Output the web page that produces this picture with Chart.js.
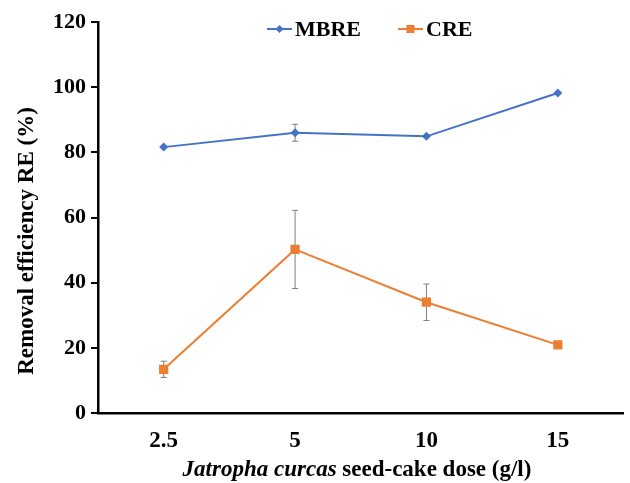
<!DOCTYPE html>
<html>
<head>
<meta charset="utf-8">
<script src="https://cdn.jsdelivr.net/npm/chart.js@4.4.1/dist/chart.umd.min.js"></script>
<style>
  body { margin: 0; background: #fff; }
  #wrap { width: 630px; height: 483px; }
</style>
</head>
<body>
<div id="wrap"><canvas id="grafico" width="630" height="483"></canvas></div>
<script>
const dosis = ['2.5', '5', '10', '15'];
const mbre = [81.6, 86.0, 84.9, 98.2];
const mbreErr = [0, 2.6, 0, 0];
const cre = [13.4, 50.2, 34.0, 20.9];
const creErr = [2.5, 12.0, 5.6, 0];
const yTicks = [0, 20, 40, 60, 80, 100, 120];

const fuente = 'Liberation Serif, Times New Roman, serif';
const azul = '#4472C4';
const naranja = '#ED7D31';

// barras de error, dibujadas detras de los marcadores
const barrasError = {
    id: 'barrasError',
    beforeDatasetsDraw(chart) {
        const ctx = chart.ctx;
        const xs = chart.scales.x;
        const ys = chart.scales.y;
        ctx.save();
        ctx.strokeStyle = '#7f7f7f';
        ctx.lineWidth = 1;
        chart.data.datasets.forEach((ds) => {
            ds.errores.forEach((e, i) => {
                if (!e) return;
                const x = xs.getPixelForValue(i);
                const y1 = ys.getPixelForValue(ds.data[i] + e);
                const y2 = ys.getPixelForValue(ds.data[i] - e);
                ctx.beginPath();
                ctx.moveTo(x, y1); ctx.lineTo(x, y2);
                ctx.moveTo(x - 3, y1); ctx.lineTo(x + 3, y1);
                ctx.moveTo(x - 3, y2); ctx.lineTo(x + 3, y2);
                ctx.stroke();
            });
        });
        ctx.restore();
    }
};

// leyenda con linea y marcador, titulos de ejes
const extras = {
    id: 'extras',
    afterDraw(chart) {
        const ctx = chart.ctx;
        ctx.save();
        ctx.font = 'bold 22px ' + fuente;
        ctx.textBaseline = 'middle';
        ctx.fillStyle = '#000';
        const items = [
            { x: 267, ds: chart.data.datasets[0] },
            { x: 398, ds: chart.data.datasets[1] }
        ];
        const yl = 29;
        items.forEach(({x, ds}) => {
            ctx.strokeStyle = ds.borderColor;
            ctx.lineWidth = 2;
            ctx.beginPath();
            ctx.moveTo(x, yl); ctx.lineTo(x + 25, yl);
            ctx.stroke();
            ctx.fillStyle = ds.borderColor;
            ctx.beginPath();
            if (ds.pointStyle === 'rectRot') {
                ctx.moveTo(x + 12.5, yl - 4); ctx.lineTo(x + 16.5, yl);
                ctx.lineTo(x + 12.5, yl + 4); ctx.lineTo(x + 8.5, yl);
            } else {
                ctx.rect(x + 8.5, yl - 4, 8, 8);
            }
            ctx.fill();
            ctx.fillStyle = '#000';
            ctx.textAlign = 'left';
            ctx.fillText(ds.label, x + 28, yl + 1);
        });

        // titulo eje y
        ctx.save();
        ctx.translate(27, 241);
        ctx.rotate(-Math.PI / 2);
        ctx.font = 'bold 23px ' + fuente;
        ctx.textAlign = 'center';
        ctx.textBaseline = 'middle';
        ctx.fillText('Removal efficiency RE (%)', 0, 0);
        ctx.restore();

        // titulo eje x
        const parte1 = 'Jatropha curcas';
        const parte2 = ' seed-cake dose (g/l)';
        ctx.font = 'italic bold 23px ' + fuente;
        const w1 = ctx.measureText(parte1).width;
        ctx.font = 'bold 23px ' + fuente;
        const w2 = ctx.measureText(parte2).width;
        const x0 = 357 - (w1 + w2) / 2;
        ctx.textAlign = 'left';
        ctx.textBaseline = 'alphabetic';
        ctx.font = 'italic bold 23px ' + fuente;
        ctx.fillText(parte1, x0, 476);
        ctx.font = 'bold 23px ' + fuente;
        ctx.fillText(parte2, x0 + w1, 476);
        ctx.restore();
    }
};

const ctx = document.getElementById('grafico');
const miGrafico = new Chart(ctx, {
    type: 'line',
    data: {
        labels: dosis,
        datasets: [{
            label: 'MBRE',
            data: mbre,
            errores: mbreErr,
            borderColor: azul,
            backgroundColor: azul,
            borderWidth: 2,
            pointStyle: 'rectRot',
            pointRadius: 4.5,
            pointBorderWidth: 0,
            tension: 0
        }, {
            label: 'CRE',
            data: cre,
            errores: creErr,
            borderColor: naranja,
            backgroundColor: naranja,
            borderWidth: 2,
            pointStyle: 'rect',
            pointRadius: 6.5,
            pointBorderWidth: 0,
            tension: 0
        }]
    },
    options: {
        responsive: false,
        animation: false,
        layout: { padding: { top: 22, right: 0, left: 0, bottom: 0 } },
        plugins: {
            legend: { display: false },
            tooltip: { enabled: false }
        },
        scales: {
            x: {
                type: 'category',
                offset: true,
                grid: { display: false },
                border: { display: true, color: '#000', width: 2.5 },
                ticks: {
                    color: '#000',
                    padding: 6,
                    font: { family: fuente, size: 23, weight: 'bold' }
                },
                afterFit: (s) => { s.height = 70; }
            },
            y: {
                min: 0,
                max: 120,
                afterBuildTicks: (s) => { s.ticks = yTicks.map(v => ({ value: v })); },
                grid: {
                    display: true,
                    drawOnChartArea: false,
                    drawTicks: true,
                    tickLength: 7,
                    color: '#000',
                    lineWidth: 2
                },
                border: { display: true, color: '#000', width: 2.5 },
                ticks: {
                    color: '#000',
                    padding: 5,
                    font: { family: fuente, size: 22, weight: 'bold' }
                },
                afterFit: (s) => { s.width = 98; }
            }
        }
    },
    plugins: [barrasError, extras]
});
</script>
</body>
</html>
